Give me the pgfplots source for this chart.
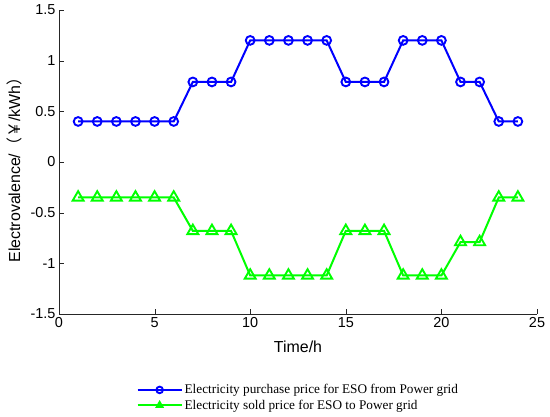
\documentclass[border=0pt]{standalone}
\usepackage{pgfplots}
\pgfplotsset{compat=1.18}
\usepackage{fontspec}
\setmainfont{Liberation Sans}
\newfontfamily\timesf{Liberation Serif}
\newfontfamily\cjk{Noto Sans CJK SC}
\definecolor{mblue}{RGB}{0,0,255}
\definecolor{mgreen}{RGB}{0,255,0}
\begin{document}
\begin{tikzpicture}
\useasboundingbox (0,0) rectangle (550bp,417bp);
\begin{axis}[
  at={(59bp,103bp)}, anchor=south west,
  scale only axis, width=478bp, height=304bp,
  xmin=0, xmax=25, ymin=-1.5, ymax=1.5,
  xtick={0,5,...,25}, ytick={-1.5,-1,...,1.5},
  axis x line*=bottom, axis y line*=left,
  axis line style={black!85},
  tick style={black!85},
  tick align=inside, major tick length=5bp,
  ticklabel style={font=\fontsize{14.5}{17}\selectfont},
  /pgf/number format/assume math mode=true,
  xlabel={Time/h},
  ylabel={Electrovalence/{\cjk （￥}/kWh{\cjk ）}},
  label style={font=\fontsize{16}{19}\selectfont},
  xlabel style={yshift=-6bp},
  ylabel style={yshift=2bp, xshift=-4bp},
  legend style={at={(0.162,-0.228)}, anchor=north west, draw=none, fill=none,
    inner sep=0pt, row sep=2.5bp,
    font=\timesf\fontsize{13.3}{15}\selectfont,
    nodes={inner xsep=2bp, inner ysep=1bp}},
  legend cell align=left,
  legend image code/.code={%
    \draw[#1, mark=none] (0bp,0bp) -- (44bp,0bp);
    \draw[#1, draw=none, only marks, mark size=3.3bp] plot coordinates {(22bp,0bp)};},
]
\addplot[mblue, line width=2bp, mark=o, mark size=4.4bp, mark options={line width=1.9bp}] coordinates {
(1,0.4) (2,0.4) (3,0.4) (4,0.4) (5,0.4) (6,0.4)
(7,0.79) (8,0.79) (9,0.79)
(10,1.2) (11,1.2) (12,1.2) (13,1.2) (14,1.2)
(15,0.79) (16,0.79) (17,0.79)
(18,1.2) (19,1.2) (20,1.2)
(21,0.79) (22,0.79)
(23,0.4) (24,0.4)};
\addlegendentry{Electricity purchase price for ESO from Power grid}
\addplot[mgreen, line width=2bp, mark=triangle, mark size=6.3bp, mark options={line width=1.9bp}] coordinates {
(1,-0.35) (2,-0.35) (3,-0.35) (4,-0.35) (5,-0.35) (6,-0.35)
(7,-0.68) (8,-0.68) (9,-0.68)
(10,-1.12) (11,-1.12) (12,-1.12) (13,-1.12) (14,-1.12)
(15,-0.68) (16,-0.68) (17,-0.68)
(18,-1.12) (19,-1.12) (20,-1.12)
(21,-0.79) (22,-0.79)
(23,-0.35) (24,-0.35)};
\addlegendentry{Electricity sold price for ESO to Power grid}
\end{axis}
\end{tikzpicture}
\end{document}
